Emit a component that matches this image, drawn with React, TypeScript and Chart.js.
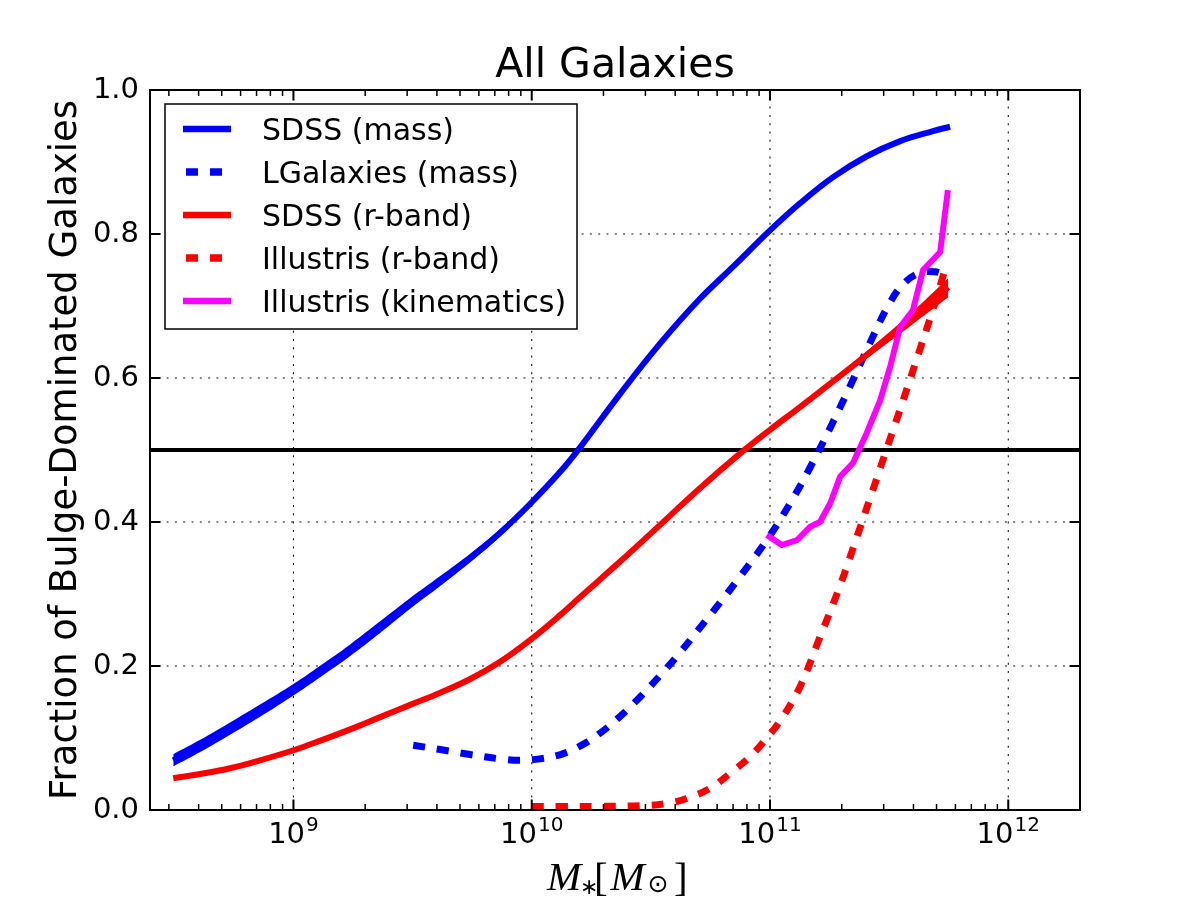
import React, { useEffect, useRef } from "react";
import { Chart, registerables } from "chart.js";

Chart.register(...registerables);

// ---------- axes ----------
const xAxisMin = 2.5e8;
const xAxisMax = 2e12;
const yAxisMin = 0;
const yAxisMax = 1;
const yTickStep = 0.2;
const yTickValues = [0, 0.2, 0.4, 0.6, 0.8, 1.0];
const xMajorTicks = [1e9, 1e10, 1e11, 1e12];
const xMajorExponents = ["9", "10", "11", "12"];
const xMinorMultipliers = [2, 3, 4, 5, 6, 7, 8, 9];
const xMinorDecades = [1e8, 1e9, 1e10, 1e11, 1e12];

const chartTitle = "All Galaxies";
const yAxisTitle = "Fraction of Bulge-Dominated Galaxies";

// ---------- data ----------
const sdssMassX = [3.13e8, 4.06e8, 5.42e8, 7.24e8, 1.0e9, 1.29e9, 1.73e9, 2.31e9, 3.09e9, 4.13e9, 5.52e9, 7.37e9, 9.84e9, 1.32e10, 1.6e10, 2.35e10, 3.46e10, 5.08e10, 7.02e10, 1.0e11, 1.34e11, 1.84e11, 2.55e11, 3.52e11, 4.83e11, 5.7e11];
const sdssMassY = [0.069, 0.089, 0.113, 0.138, 0.167, 0.192, 0.222, 0.254, 0.287, 0.318, 0.350, 0.385, 0.425, 0.470, 0.504, 0.578, 0.648, 0.710, 0.755, 0.805, 0.843, 0.879, 0.908, 0.929, 0.943, 0.949];

const sdssMassBandX = [3.13e8, 4.06e8, 5.42e8, 7.24e8, 1.0e9, 1.29e9, 1.73e9, 2.31e9, 3.09e9, 4.13e9, 5.52e9, 7.37e9, 9.84e9, 1.32e10, 1.6e10];
const sdssMassBandHi = [0.0775, 0.0975, 0.1215, 0.1465, 0.175, 0.200, 0.230, 0.262, 0.2945, 0.325, 0.356, 0.390, 0.429, 0.472, 0.504];
const sdssMassBandLo = [0.0605, 0.0805, 0.1045, 0.1295, 0.159, 0.184, 0.214, 0.246, 0.2795, 0.311, 0.344, 0.380, 0.421, 0.468, 0.504];

const lgalX = [3.18e9, 4.13e9, 5.52e9, 7.37e9, 8.93e9, 1.08e10, 1.32e10, 1.6e10, 1.94e10, 2.35e10, 2.85e10, 3.46e10, 4.2e10, 5.08e10, 6.17e10, 7.48e10, 9.8e10, 1.21e11, 1.47e11, 1.79e11, 2.17e11, 2.63e11, 3.19e11, 3.69e11, 4.26e11, 4.92e11, 5.43e11];
const lgalY = [0.090, 0.084, 0.077, 0.071, 0.069, 0.071, 0.077, 0.089, 0.107, 0.130, 0.157, 0.187, 0.219, 0.253, 0.288, 0.324, 0.377, 0.425, 0.475, 0.531, 0.589, 0.649, 0.705, 0.733, 0.746, 0.7475, 0.7435];

const sdssRX = [3.13e8, 4.06e8, 5.42e8, 7.24e8, 1.0e9, 1.29e9, 1.73e9, 2.31e9, 3.09e9, 4.13e9, 5.52e9, 7.37e9, 9.84e9, 1.32e10, 1.6e10, 2.35e10, 3.46e10, 5.08e10, 7.48e10, 1.0e11, 1.34e11, 1.97e11, 2.9e11, 3.87e11, 5.6e11];
const sdssRY = [0.044, 0.050, 0.058, 0.069, 0.083, 0.096, 0.112, 0.129, 0.146, 0.163, 0.182, 0.206, 0.236, 0.271, 0.296, 0.345, 0.396, 0.447, 0.495, 0.528, 0.560, 0.603, 0.647, 0.680, 0.726];

const sdssRBandX = [1.34e11, 1.97e11, 2.9e11, 3.87e11, 5.6e11];
const sdssRBandHi = [0.560, 0.606, 0.653, 0.689, 0.739];
const sdssRBandLo = [0.560, 0.600, 0.641, 0.672, 0.712];

const illRX = [1.0e10, 1.32e10, 1.94e10, 2.85e10, 3.7e10, 4.47e10, 5.6e10, 6.8e10, 8.24e10, 9.7e10, 1.12e11, 1.34e11, 1.62e11, 1.97e11, 2.32e11, 2.63e11, 3.1e11, 3.63e11, 4.27e11, 4.7e11, 5.33e11, 5.48e11];
const illRY = [0.005, 0.005, 0.005, 0.006, 0.009, 0.016, 0.030, 0.051, 0.074, 0.100, 0.127, 0.172, 0.240, 0.312, 0.380, 0.433, 0.503, 0.570, 0.641, 0.683, 0.742, 0.757];

const illKinX = [9.7e10, 1.12e11, 1.3e11, 1.47e11, 1.62e11, 1.79e11, 1.97e11, 2.23e11, 2.55e11, 2.9e11, 3.19e11, 3.52e11, 3.98e11, 4.39e11, 5.18e11, 5.58e11];
const illKinY = [0.382, 0.368, 0.375, 0.393, 0.400, 0.426, 0.463, 0.482, 0.524, 0.569, 0.615, 0.671, 0.694, 0.750, 0.775, 0.861];

const hlineX = [xAxisMin, xAxisMax];
const hlineY = [0.5, 0.5];

const SANS = '"DejaVu Sans", sans-serif';
const SERIF = '"Liberation Serif", "DejaVu Serif", serif';

const pts = (xs: number[], ys: number[]) => xs.map((x, i) => ({ x, y: ys[i] }));

function drawInkCentered(ctx: CanvasRenderingContext2D, text: string, font: string, cx: number, cy: number) {
  ctx.font = font;
  ctx.textAlign = "left";
  ctx.textBaseline = "alphabetic";
  const m = ctx.measureText(text);
  const x = cx - (m.actualBoundingBoxRight - m.actualBoundingBoxLeft) / 2;
  const y = cy + (m.actualBoundingBoxAscent - m.actualBoundingBoxDescent) / 2;
  ctx.fillText(text, x, y);
}

const decorPlugin = {
  id: "decor",
  beforeDraw(chart: any) {
    const ctx = chart.ctx;
    ctx.save();
    ctx.fillStyle = "#ffffff";
    ctx.fillRect(0, 0, chart.width, chart.height);
    ctx.restore();
  },
  beforeDatasetsDraw(chart: any) {
    const { ctx, chartArea: a, scales } = chart;
    ctx.save();
    ctx.strokeStyle = "#111";
    ctx.lineWidth = 1.1;
    ctx.setLineDash([2, 6.3]);
    for (const v of xMajorTicks) {
      const px = scales.x.getPixelForValue(v);
      ctx.beginPath();
      ctx.moveTo(px, a.top);
      ctx.lineTo(px, a.bottom);
      ctx.stroke();
    }
    for (const v of yTickValues) {
      const py = scales.y.getPixelForValue(v);
      ctx.beginPath();
      ctx.moveTo(a.left, py);
      ctx.lineTo(a.right, py);
      ctx.stroke();
    }
    ctx.restore();
  },
  afterDatasetsDraw(chart: any) {
    const { ctx, chartArea: a, scales } = chart;
    ctx.save();
    ctx.setLineDash([]);
    ctx.strokeStyle = "#000";
    const seg = (x1: number, y1: number, x2: number, y2: number) => {
      ctx.beginPath();
      ctx.moveTo(x1, y1);
      ctx.lineTo(x2, y2);
      ctx.stroke();
    };
    // x minor ticks
    ctx.lineWidth = 1.5;
    for (const d of xMinorDecades) {
      for (const k of xMinorMultipliers) {
        const v = k * d;
        if (v <= xAxisMin || v >= xAxisMax) continue;
        const px = scales.x.getPixelForValue(v);
        seg(px, a.bottom, px, a.bottom - 6);
        seg(px, a.top, px, a.top + 6);
      }
    }
    // major ticks
    ctx.lineWidth = 2;
    for (const v of xMajorTicks) {
      const px = scales.x.getPixelForValue(v);
      seg(px, a.bottom, px, a.bottom - 10.5);
      seg(px, a.top, px, a.top + 10.5);
    }
    for (const v of yTickValues) {
      const py = scales.y.getPixelForValue(v);
      seg(a.left, py, a.left + 10.5, py);
      seg(a.right, py, a.right - 10.5, py);
    }
    // frame
    ctx.lineWidth = 2;
    ctx.strokeRect(a.left, a.top, a.right - a.left, a.bottom - a.top);

    // legend
    const lx0 = 165, ly0 = 104, lx1 = 577, ly1 = 329;
    ctx.fillStyle = "#fff";
    ctx.fillRect(lx0, ly0, lx1 - lx0, ly1 - ly0);
    ctx.lineWidth = 1.5;
    ctx.strokeStyle = "#000";
    ctx.strokeRect(lx0, ly0, lx1 - lx0, ly1 - ly0);
    const items = chart.data.datasets.filter((d: any) => d.inLegend);
    items.forEach((d: any, i: number) => {
      const y = 129 + i * 43;
      ctx.save();
      ctx.strokeStyle = d.borderColor;
      ctx.lineWidth = d.borderWidth + 0.5;
      ctx.setLineDash(d.borderDash || []);
      ctx.lineDashOffset = d.borderDash ? -3 : 0;
      ctx.beginPath();
      ctx.moveTo(183, y);
      ctx.lineTo(231, y);
      ctx.stroke();
      ctx.restore();
      ctx.fillStyle = "#000";
      ctx.font = `30px ${SANS}`;
      ctx.textAlign = "left";
      ctx.textBaseline = "alphabetic";
      ctx.fillText(d.label, 262, y + 11);
    });
    ctx.restore();
  },
  afterDraw(chart: any) {
    const { ctx, chartArea: a, scales } = chart;
    ctx.save();
    ctx.fillStyle = "#000";
    // title
    ctx.font = `41px ${SANS}`;
    ctx.textAlign = "center";
    ctx.textBaseline = "alphabetic";
    ctx.fillText(chartTitle, (a.left + a.right) / 2, 77);

    // x tick labels 10^n
    xMajorTicks.forEach((v, i) => {
      const px = scales.x.getPixelForValue(v);
      ctx.font = `29px ${SANS}`;
      const wb = ctx.measureText("10").width;
      ctx.font = `20px ${SANS}`;
      const we = ctx.measureText(xMajorExponents[i]).width;
      const left = px - (wb + we + 1) / 2;
      ctx.textAlign = "left";
      ctx.font = `29px ${SANS}`;
      ctx.fillText("10", left, 843);
      ctx.font = `20px ${SANS}`;
      ctx.fillText(xMajorExponents[i], left + wb + 1, 831);
    });

    // y axis title
    ctx.save();
    ctx.translate(76, (a.top + a.bottom) / 2);
    ctx.rotate(-Math.PI / 2);
    ctx.font = `37px ${SANS}`;
    ctx.textAlign = "center";
    ctx.textBaseline = "alphabetic";
    ctx.fillText(yAxisTitle, 0, 0);
    ctx.restore();

    // x axis title: M_*[M_sun]
    drawInkCentered(ctx, "M", `italic 41px ${SERIF}`, 565, 876.5);
    drawInkCentered(ctx, "\u2217", `22px ${SANS}`, 589, 887);
    drawInkCentered(ctx, "[", `41px ${SERIF}`, 602, 878.5);
    drawInkCentered(ctx, "M", `italic 41px ${SERIF}`, 628.5, 876.5);
    drawInkCentered(ctx, "\u2299", `25px ${SANS}`, 658, 884);
    drawInkCentered(ctx, "]", `41px ${SERIF}`, 680, 878.5);
    ctx.restore();
  },
};

export default function App() {
  const ref = useRef<HTMLCanvasElement | null>(null);
  useEffect(() => {
    if (!ref.current) return;
    const blue = "#0000ff";
    const red = "#ff0000";
    const magenta = "#ff00ff";
    const smooth = 0.4;
    const chart = new Chart(ref.current, {
      type: "line",
      data: {
        datasets: [
          { label: "hline", data: pts(hlineX, hlineY), borderColor: "#000", borderWidth: 4, order: 20, fill: false, tension: 0 } as any,
          { label: "massBandHi", data: pts(sdssMassBandX, sdssMassBandHi), borderColor: "rgba(0,0,0,0)", borderWidth: 0, fill: false, order: 19, tension: smooth } as any,
          { label: "massBandLo", data: pts(sdssMassBandX, sdssMassBandLo), borderColor: "rgba(0,0,0,0)", borderWidth: 0, fill: "-1", backgroundColor: blue, order: 19, tension: smooth } as any,
          { label: "SDSS (mass)", inLegend: true, data: pts(sdssMassX, sdssMassY), borderColor: blue, borderWidth: 6, order: 18, fill: false, tension: smooth } as any,
          { label: "LGalaxies (mass)", inLegend: true, data: pts(lgalX, lgalY), borderColor: blue, borderWidth: 7, borderDash: [12, 12], order: 17, fill: false, tension: smooth } as any,
          { label: "rBandHi", data: pts(sdssRBandX, sdssRBandHi), borderColor: "rgba(0,0,0,0)", borderWidth: 0, fill: false, order: 16, tension: smooth } as any,
          { label: "rBandLo", data: pts(sdssRBandX, sdssRBandLo), borderColor: "rgba(0,0,0,0)", borderWidth: 0, fill: "-1", backgroundColor: red, order: 16, tension: smooth } as any,
          { label: "SDSS (r-band)", inLegend: true, data: pts(sdssRX, sdssRY), borderColor: red, borderWidth: 6, order: 15, fill: false, tension: smooth } as any,
          { label: "Illustris (r-band)", inLegend: true, data: pts(illRX, illRY), borderColor: red, borderWidth: 7, borderDash: [12, 12], order: 14, fill: false, tension: smooth } as any,
          { label: "Illustris (kinematics)", inLegend: true, data: pts(illKinX, illKinY), borderColor: magenta, borderWidth: 6, order: 13, fill: false, tension: 0 } as any,
        ],
      },
      options: {
        responsive: false,
        devicePixelRatio: 1,
        animation: false,
        events: [],
        layout: { padding: { left: 0, top: 90, right: 120, bottom: 0 } },
        elements: { point: { radius: 0, hoverRadius: 0 }, line: { borderJoinStyle: "round" } },
        plugins: {
          legend: { display: false },
          tooltip: { enabled: false },
          title: { display: false },
        },
        scales: {
          x: {
            type: "logarithmic",
            min: xAxisMin,
            max: xAxisMax,
            grid: { display: false, drawTicks: false },
            border: { display: false },
            ticks: { display: false },
            afterFit: (s: any) => {
              s.height = 90;
            },
          },
          y: {
            type: "linear",
            min: yAxisMin,
            max: yAxisMax,
            grid: { display: false, drawTicks: false },
            border: { display: false },
            ticks: {
              stepSize: yTickStep,
              padding: 11,
              color: "#000",
              font: { family: "DejaVu Sans", size: 29 },
              callback: (v: any) => Number(v).toFixed(1),
            },
            afterFit: (s: any) => {
              s.width = 150;
            },
          },
        },
      } as any,
      plugins: [decorPlugin],
    });
    return () => chart.destroy();
  }, []);
  return (
    <div style={{ position: "absolute", left: 0, top: 0, width: 1200, height: 900, background: "#fff" }}>
      <canvas ref={ref} width={1200} height={900} style={{ display: "block", width: 1200, height: 900 }} />
    </div>
  );
}
